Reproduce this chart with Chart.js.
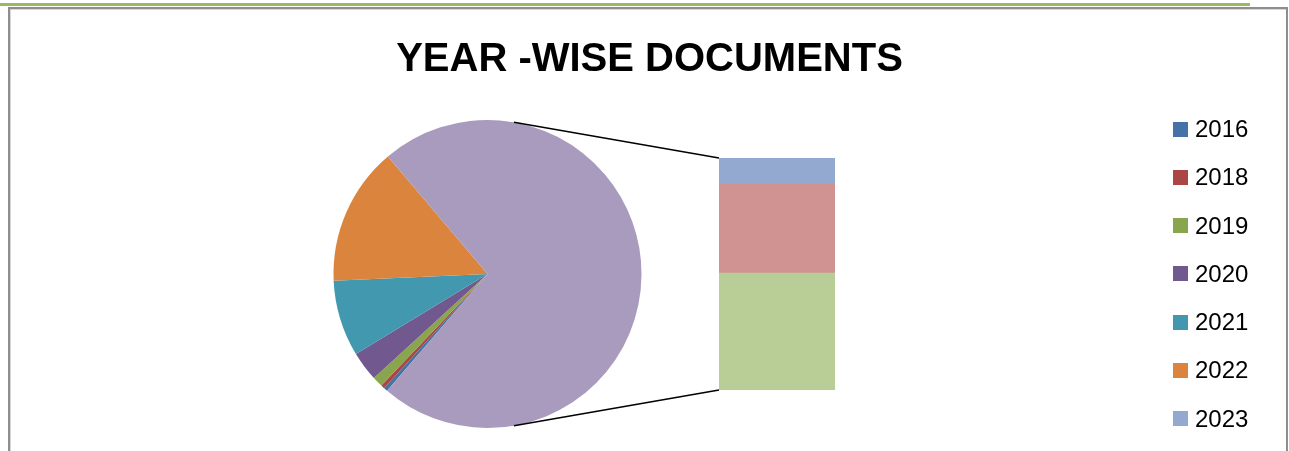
<!DOCTYPE html>
<html>
<head>
<meta charset="utf-8">
<title>YEAR -WISE DOCUMENTS</title>
<script src="https://cdn.jsdelivr.net/npm/chart.js@4.4.1/dist/chart.umd.min.js"></script>
<style>
  html, body { margin: 0; padding: 0; background: #ffffff; }
  #page { position: relative; width: 1289px; height: 451px; overflow: hidden; background: #ffffff; }
  #topRule { position: absolute; left: 0; top: 3px; width: 1250px; height: 3px; background: #9bbb59; }
  #frame { position: absolute; left: 8px; top: 7px; width: 1276px; height: 460px;
           border: 2px solid #8e8e8e; border-bottom: none; box-shadow: inset 1px 1px 0 #d6d6d6; }
  canvas { position: absolute; left: 0; top: 0; }
  #title { position: absolute; left: 0; width: 1299px; top: 35px; text-align: center;
           font: bold 40px "Liberation Sans", Arial, sans-serif; color: #000; white-space: nowrap; }
  #legend { position: absolute; left: 1173px; top: 0; font: 24px "Liberation Sans", Arial, sans-serif; color: #000; }
  .item { position: absolute; left: 0; height: 28px; display: flex; align-items: center; white-space: nowrap; }
  .swatch { width: 15px; height: 15px; margin-right: 7px; flex: none; }
</style>
</head>
<body>
<div id="page">
  <div id="topRule"></div>
  <div id="frame"></div>
  <canvas id="pieCanvas" width="1289" height="451"></canvas>
  <canvas id="barCanvas" width="1289" height="451"></canvas>
  <div id="title">YEAR -WISE DOCUMENTS</div>
  <div id="legend"></div>
</div>
<script>
// Documents per year
const years = ['2016', '2018', '2019', '2020', '2021', '2022', '2023', '2024', '2025'];
const documents = [4, 4, 11, 31, 80, 145, 81, 279, 365];
const yearColors = ['#4572a7', '#aa4643', '#89a54e', '#71588f', '#4198af', '#db843d', '#93a9cf', '#d19392', '#b9cd96'];
const otherColor = '#a99bbd';

// The first six years sit in the pie; the later years are grouped into "Other"
// and broken out in the stacked bar beside it.
const pieCount = 6;
const pieYears = years.slice(0, pieCount);
const pieValues = documents.slice(0, pieCount);
const barYears = years.slice(pieCount);
const barValues = documents.slice(pieCount);
const otherTotal = barValues.reduce((a, b) => a + b, 0);

Chart.defaults.font.family = '"Liberation Sans", Arial, sans-serif';

const pieChart = new Chart(document.getElementById('pieCanvas'), {
  type: 'pie',
  data: {
    labels: [...pieYears, 'Other'],
    datasets: [{
      data: [...pieValues, otherTotal],
      backgroundColor: [...yearColors.slice(0, pieCount), otherColor],
      borderWidth: 0
    }]
  },
  options: {
    responsive: false,
    animation: false,
    devicePixelRatio: 1,
    rotation: 220.7,
    layout: { padding: { left: 333, right: 647, top: 120, bottom: 23 } },
    plugins: { legend: { display: false }, tooltip: { enabled: false } }
  }
});

// Series lines: tangents from the pie to the corners of the breakout bar
const seriesLines = {
  id: 'seriesLines',
  afterDatasetsDraw(chart) {
    const arc = pieChart.getDatasetMeta(0).data[0];
    const cx = arc.x, cy = arc.y, r = arc.outerRadius;
    const metas = chart.getSortedVisibleDatasetMetas();
    const bottomBar = metas[0].data[0];
    const topBar = metas[metas.length - 1].data[0];
    const left = bottomBar.x - bottomBar.width / 2;
    const corners = [[left, topBar.y, -1], [left, bottomBar.base, 1]];
    const ctx = chart.ctx;
    ctx.save();
    ctx.strokeStyle = '#000000';
    ctx.lineWidth = 1.5;
    corners.forEach(([px, py, side]) => {
      const dx = px - cx, dy = py - cy;
      const d = Math.hypot(dx, dy);
      const ang = Math.atan2(dy, dx) + side * Math.acos(r / d);
      ctx.beginPath();
      ctx.moveTo(cx + r * Math.cos(ang), cy + r * Math.sin(ang));
      ctx.lineTo(px, py);
      ctx.stroke();
    });
    ctx.restore();
  }
};

const barOrder = barYears.map((y, i) => i).reverse();
new Chart(document.getElementById('barCanvas'), {
  type: 'bar',
  data: {
    labels: ['Other'],
    datasets: barOrder.map(i => ({
      label: barYears[i],
      data: [barValues[i]],
      backgroundColor: yearColors[pieCount + i],
      borderWidth: 0,
      barPercentage: 1,
      categoryPercentage: 1
    }))
  },
  options: {
    responsive: false,
    animation: false,
    devicePixelRatio: 1,
    layout: { padding: { left: 719, right: 454, top: 158, bottom: 61 } },
    scales: {
      x: { display: false, stacked: true },
      y: { display: false, stacked: true, min: 0, max: otherTotal }
    },
    plugins: { legend: { display: false }, tooltip: { enabled: false } }
  },
  plugins: [seriesLines]
});

// Legend down the right-hand side
const legend = document.getElementById('legend');
years.forEach((y, i) => {
  const item = document.createElement('div');
  item.className = 'item';
  item.style.top = (115 + i * 48.25) + 'px';
  const sw = document.createElement('span');
  sw.className = 'swatch';
  sw.style.background = yearColors[i];
  const tx = document.createElement('span');
  tx.textContent = y;
  item.appendChild(sw);
  item.appendChild(tx);
  legend.appendChild(item);
});
</script>
</body>
</html>
